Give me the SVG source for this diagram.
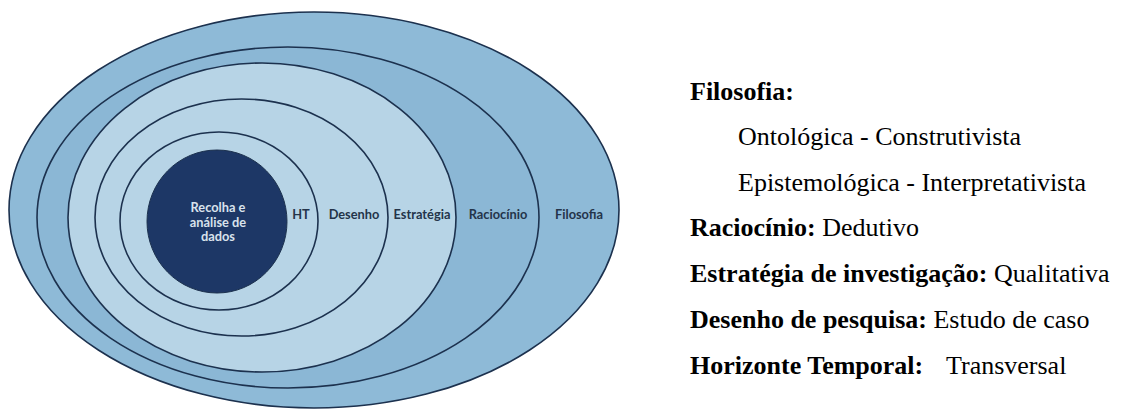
<svg xmlns="http://www.w3.org/2000/svg" width="1124" height="412" viewBox="0 0 1124 412">
  <style>
    .ring { stroke: #1c314e; stroke-width: 1.6; }
    .mid { fill: #8ebad7; }
    .mid2 { fill: #8bb7d5; }
    .light { fill: #b7d4e6; }
    .core { fill: #1d3766; stroke: #1c314e; stroke-width: 1; }
    .lbl { font-family: Lato, "Liberation Sans", sans-serif; font-weight: bold; font-size: 12.8px; fill: #24344a; text-anchor: middle; }
    .corelbl { font-family: Lato, "Liberation Sans", sans-serif; font-weight: bold; font-size: 12.8px; fill: #d9e2ec; text-anchor: middle; }
    .txt { font-family: "Liberation Serif", "Times New Roman", serif; font-size: 26px; fill: #000; }
    .b { font-weight: bold; }
  </style>
  <rect width="1124" height="412" fill="#ffffff"/>

  <g id="filosofia">
    <ellipse class="ring mid" cx="314" cy="210" rx="305" ry="198"/>
    <text class="lbl" x="579" y="219">Filosofia</text>
  </g>
  <g id="raciocinio">
    <ellipse class="ring mid2" cx="288" cy="217.5" rx="251" ry="170.5"/>
    <text class="lbl" x="498" y="219">Raciocínio</text>
  </g>
  <g id="estrategia">
    <ellipse class="ring light" cx="262" cy="217.5" rx="194" ry="154.5"/>
    <text class="lbl" x="422" y="219">Estratégia</text>
  </g>
  <g id="desenho">
    <ellipse class="ring light" cx="241.5" cy="217.5" rx="146.5" ry="118.5"/>
    <text class="lbl" x="354" y="219">Desenho</text>
  </g>
  <g id="ht">
    <ellipse class="ring light" cx="219" cy="221" rx="99" ry="89"/>
    <text class="lbl" x="301" y="219">HT</text>
  </g>
  <g id="recolha">
    <ellipse class="core" cx="217" cy="221.5" rx="70" ry="71.5"/>
    <text class="corelbl" x="218" y="212">Recolha e</text>
    <text class="corelbl" x="218" y="226.5">análise de</text>
    <text class="corelbl" x="218" y="241">dados</text>
  </g>

  <g id="connectors"/>

  <g id="legenda" class="txt">
    <text x="690" y="100"><tspan class="b">Filosofia:</tspan></text>
    <text x="738" y="145">Ontológica - Construtivista</text>
    <text x="738" y="191">Epistemológica - Interpretativista</text>
    <text x="690" y="236"><tspan class="b">Raciocínio:</tspan> Dedutivo</text>
    <text x="690" y="282"><tspan class="b">Estratégia de investigação:</tspan> Qualitativa</text>
    <text x="690" y="328"><tspan class="b">Desenho de pesquisa:</tspan> Estudo de caso</text>
    <text x="690" y="374"><tspan class="b">Horizonte Temporal:</tspan><tspan x="946">Transversal</tspan></text>
  </g>
</svg>
